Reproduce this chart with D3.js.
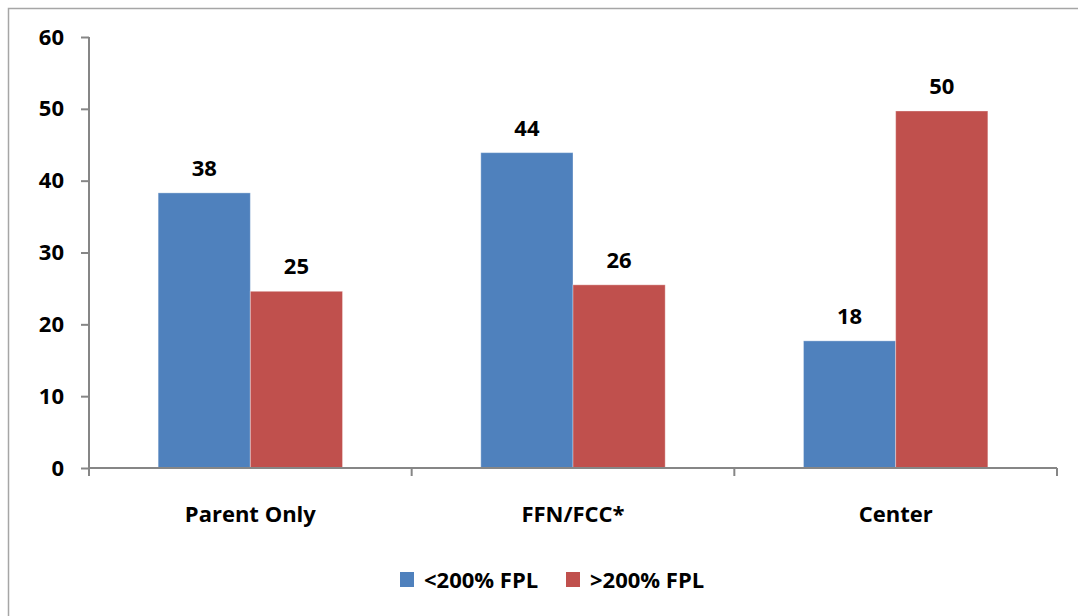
<!DOCTYPE html>
<html lang="en">
<head>
<meta charset="UTF-8">
<title>FPL chart</title>
<script src="https://cdn.jsdelivr.net/npm/d3@7"></script>
<style>
    body { margin: 0; background: #fff; }
    svg text { font-family: "Open Sans", Lato, sans-serif; font-weight: bold; fill: #000; }
    .axis path, .axis line { stroke: #868686; stroke-width: 2; fill: none; }
    .axis text { font-size: 22px; }
</style>
</head>
<body>
<svg id="chart"></svg>
<script>
    // data
    var categories = ["Parent Only", "FFN/FCC*", "Center"]
    var seriesNames = ["<200% FPL", ">200% FPL"]
    var below200 = [38.3, 43.9, 17.7]
    var above200 = [24.6, 25.5, 49.7]
    var yTicks = [0, 10, 20, 30, 40, 50, 60]
    var colors = ["#4F81BD", "#C0504D"]

    var W = 1078, H = 616
    var svg = d3.select("#chart").attr("width", W).attr("height", H)

    // outer border
    svg.append("rect")
        .attr("x", 8.5).attr("y", 8.5)
        .attr("width", W + 10).attr("height", H + 10)
        .attr("fill", "none").attr("stroke", "#a6a6a6").attr("stroke-width", 1.5)

    var m = { left: 89, right: 1057, top: 37, bottom: 468 }

    var x = d3.scaleBand().domain(categories).range([m.left, m.right])
    var y = d3.scaleLinear().domain([0, 60]).range([m.bottom, m.top])

    // bars: 2 bars + gap of 1.5 bar widths
    var barW = x.bandwidth() / 3.5
    var series = [below200, above200]

    series.forEach(function (vals, s) {
        var g = svg.append("g")
        g.selectAll("rect")
            .data(vals)
            .enter()
            .append("rect")
            .attr("x", function (d, i) { return x(categories[i]) + x.bandwidth() / 2 - barW + s * barW })
            .attr("y", function (d) { return y(d) })
            .attr("width", barW)
            .attr("height", function (d) { return y(0) - y(d) })
            .attr("fill", colors[s])
            .attr("stroke", "rgba(255,255,255,0.35)")
            .attr("stroke-width", 1)

        g.selectAll("text")
            .data(vals)
            .enter()
            .append("text")
            .attr("x", function (d, i) { return x(categories[i]) + x.bandwidth() / 2 - barW / 2 + s * barW })
            .attr("y", function (d) { return y(d) - 17 })
            .attr("text-anchor", "middle")
            .attr("font-size", 22)
            .text(function (d) { return d3.format(".0f")(d) })
    })

    // y axis
    var yAxis = d3.axisLeft(y).tickValues(yTicks).tickSize(8).tickPadding(17)
    svg.append("g").attr("class", "axis")
        .attr("transform", "translate(" + m.left + ",0)")
        .call(yAxis)
        .call(function (g) { g.select(".domain").attr("d", "M0," + m.top + "V" + m.bottom) })

    // x axis with ticks at category boundaries
    var xAxis = svg.append("g").attr("class", "axis")
    xAxis.append("line")
        .attr("x1", m.left).attr("x2", m.right).attr("y1", m.bottom).attr("y2", m.bottom)
    xAxis.selectAll(".bt")
        .data(categories.concat([null]))
        .enter()
        .append("line")
        .attr("x1", function (d, i) { return m.left + i * x.step() })
        .attr("x2", function (d, i) { return m.left + i * x.step() })
        .attr("y1", m.bottom).attr("y2", m.bottom + 8)
    xAxis.selectAll("text")
        .data(categories)
        .enter()
        .append("text")
        .attr("x", function (d) { return x(d) + x.bandwidth() / 2 })
        .attr("y", m.bottom + 54)
        .attr("text-anchor", "middle")
        .text(function (d) { return d })

    // legend
    var legendX = [400, 566]
    var legend = svg.selectAll(".legend")
        .data(seriesNames)
        .enter()
        .append("g")
        .attr("transform", function (d, i) { return "translate(" + legendX[i] + ",572)" })
    legend.append("rect")
        .attr("width", 14).attr("height", 15)
        .attr("fill", function (d, i) { return colors[i] })
    legend.append("text")
        .attr("x", 24).attr("y", 16)
        .attr("font-size", 22)
        .text(function (d) { return d })
</script>
</body>
</html>
